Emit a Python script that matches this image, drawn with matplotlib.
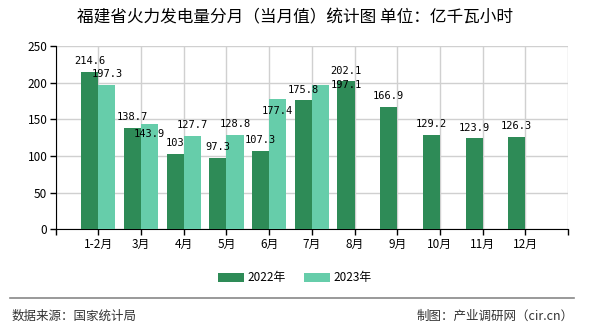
import matplotlib
matplotlib.use("Agg")
import matplotlib.pyplot as plt
import numpy as np

plt.rcParams['font.family'] = ['Noto Sans CJK SC', 'DejaVu Sans']

months = ["1-2月", "3月", "4月", "5月", "6月", "7月", "8月", "9月", "10月", "11月", "12月"]
v2022 = [214.6, 138.7, 103, 97.3, 107.3, 175.8, 202.1, 166.9, 129.2, 123.9, 126.3]
v2023 = [197.3, 143.9, 127.7, 128.8, 177.4, 197.1]
lbl2022 = ["214.6", "138.7", "103", "97.3", "107.3", "175.8", "202.1", "166.9", "129.2", "123.9", "126.3"]
lbl2023 = ["197.3", "143.9", "127.7", "128.8", "177.4", "197.1"]
yticks = [0, 50, 100, 150, 200, 250]

c22 = "#2e8b57"
c23 = "#66cdaa"

fig = plt.figure(figsize=(5.9, 3.3), dpi=100)
ax = fig.add_axes([55.7/590, 1-229.3/330, (568-55.7)/590, (229.3-46)/330])

x = np.arange(1, len(months)+1)
w = 0.4
ax.bar(x[:len(v2022)] - w/2, v2022, width=w, color=c22, label="2022年", zorder=3)
x23 = x[:len(v2023)]
ax.bar(x23 + w/2, v2023, width=w, color=c23, label="2023年", zorder=3)

ax.set_xlim(0, 12)
ax.set_ylim(0, 250)
ax.set_xticks(list(x) + [0, 12])
ax.set_xticklabels(months + ["", ""], fontsize=8.5)
ax.set_yticks(yticks)
ax.set_yticklabels([str(t) for t in yticks], fontsize=8.5)
ax.grid(True, color="#d0d0d0", linewidth=1, zorder=0)
for s in ["top", "right"]:
    ax.spines[s].set_visible(False)
ax.spines["left"].set_color("black")
ax.spines["bottom"].set_color("black")
ax.tick_params(axis="both", length=4, width=1, color="black", pad=2)

mono = "DejaVu Sans Mono"
for xi, v, t in zip(x, v2022, lbl2022):
    ax.annotate(t, (xi - w/2, v), xytext=(0, 4), textcoords="offset points",
                ha="center", va="bottom", fontsize=7.5, family=mono, zorder=5)
offs23 = {1: (0, -11, "bottom"), 4: (0, -12, "bottom"), 5: (19, -4, "bottom")}
for i, (xi, v, t) in enumerate(zip(x23, v2023, lbl2023)):
    dx, dy, va = offs23.get(i, (0, 4, "bottom"))
    ax.annotate(t, (xi + w/2, v), xytext=(dx, dy), textcoords="offset points",
                ha="center", va=va, fontsize=7.5, family=mono, zorder=5)

fig.text(0.5, 1-18/330, "福建省火力发电量分月（当月值）统计图 单位：亿千瓦小时",
         ha="center", va="center", fontsize=12)

fig.legend(loc="center", bbox_to_anchor=(0.5, 1-278/330), ncol=2, frameon=False,
           fontsize=8.5, handlelength=2.2, handleheight=0.9, columnspacing=1.5,
           handletextpad=0.3)

fig.add_artist(plt.Line2D([10/590, 574/590], [1-297.5/330, 1-297.5/330],
                          color="#888888", linewidth=1.2))
fig.text(12/590, 1-316/330, "数据来源：国家统计局", ha="left", va="center", fontsize=9, color="#333333")
fig.text(574/590, 1-316/330, "制图：产业调研网（cir.cn）", ha="right", va="center", fontsize=9, color="#333333")

fig.savefig("out.png", dpi=100)
